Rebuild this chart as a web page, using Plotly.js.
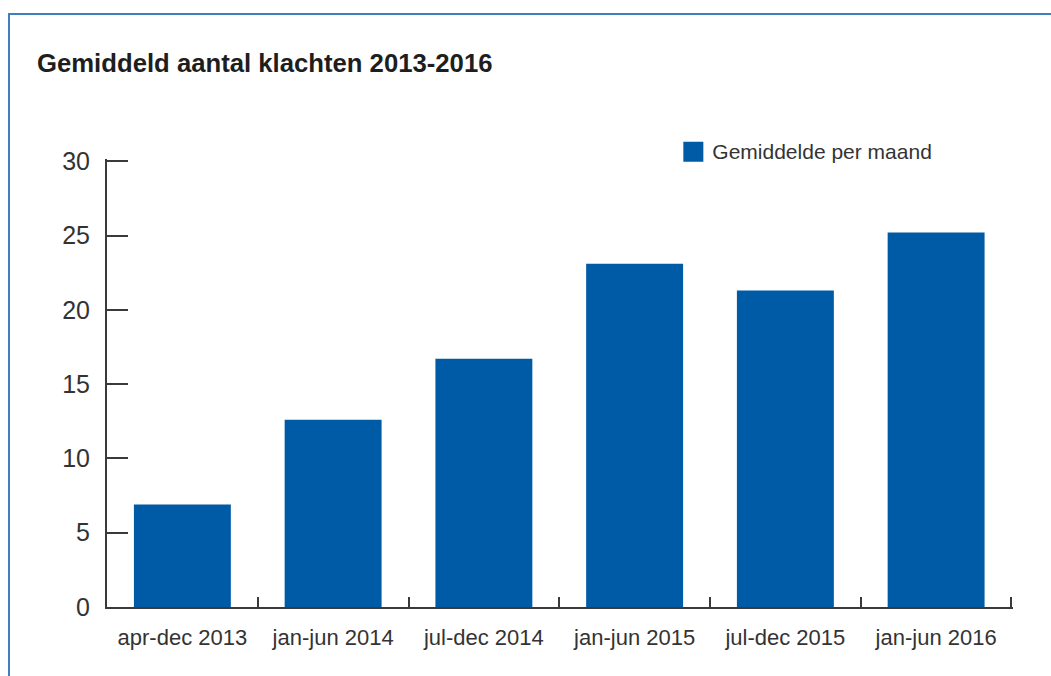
<!DOCTYPE html>
<html>
<head>
<meta charset="utf-8">
<script src="https://cdn.plot.ly/plotly-3.0.1.min.js"></script>
<style>
  html, body { margin: 0; padding: 0; background: #fff; }
  #wrap { position: relative; width: 1051px; height: 676px; overflow: hidden; }
  #chart { position: absolute; left: 0; top: 0; width: 1051px; height: 676px; }
  #frame { position: absolute; left: 8px; top: 13px; width: 1100px; height: 700px;
           border-top: 2px solid #3f7fc1; border-left: 2px solid #3f7fc1; pointer-events: none; }
</style>
</head>
<body>
<div id="wrap">
  <div id="chart"></div>
  <div id="frame"></div>
</div>
<script>
const categories = ["apr-dec 2013", "jan-jun 2014", "jul-dec 2014", "jan-jun 2015", "jul-dec 2015", "jan-jun 2016"];
const gemiddeldePerMaand = [6.9, 12.6, 16.7, 23.1, 21.3, 25.2];
const yTickValues = [0, 5, 10, 15, 20, 25, 30];
const seriesName = "Gemiddelde per maand";
const chartTitle = "Gemiddeld aantal klachten 2013-2016";

const FONT = "Liberation Sans, Arial, sans-serif";

const data = [{
  type: "bar",
  x: categories,
  y: gemiddeldePerMaand,
  name: seriesName,
  marker: { color: "#005ba6", line: { width: 0 } },
  showlegend: true,
  hoverinfo: "x+y"
}];

const layout = {
  width: 1051,
  height: 676,
  margin: { l: 107, r: 38, t: 159, b: 69, pad: 0 },
  paper_bgcolor: "#ffffff",
  plot_bgcolor: "#ffffff",
  bargap: 0.357,
  font: { family: FONT, color: "#333333" },
  title: {
    text: "<b>" + chartTitle + "</b>",
    font: { family: FONT, size: 25.7, color: "#1e1e1e" },
    x: 37 / 1051, xref: "container", xanchor: "left",
    y: 1 - 63 / 676, yref: "container", yanchor: "middle"
  },
  showlegend: true,
  legend: {
    x: 0.624, y: 1.0633, xanchor: "left", yanchor: "top",
    bgcolor: "rgba(0,0,0,0)",
    font: { family: FONT, size: 21, color: "#333333" }
  },
  xaxis: {
    type: "category",
    range: [-0.5, 5.51],
    showline: true, linecolor: "#3a3a3a", linewidth: 2,
    ticks: "inside", ticklen: 10, tickwidth: 2, tickcolor: "#3a3a3a",
    tickson: "boundaries",
    showgrid: false, zeroline: false,
    tickfont: { family: FONT, size: 22, color: "#333333" },
    ticklabelstandoff: 10
  },
  yaxis: {
    range: [0, 30.15],
    tickvals: yTickValues,
    showline: true, linecolor: "#3a3a3a", linewidth: 2,
    ticks: "inside", ticklen: 21, tickwidth: 2, tickcolor: "#3a3a3a",
    showgrid: false, zeroline: false,
    tickfont: { family: FONT, size: 25, color: "#333333" },
    ticklabelstandoff: 10
  }
};

Plotly.newPlot("chart", data, layout, { displayModeBar: false, staticPlot: true }).then(function (gd) {
  // enlarge the legend swatch to the reference's 20px square, placed just before the text
  document.querySelectorAll("#chart .legendpoints path").forEach(function (p) {
    p.removeAttribute("transform");
    p.setAttribute("d", "M31,11H11V-9H31Z");
  });
});
</script>
</body>
</html>
